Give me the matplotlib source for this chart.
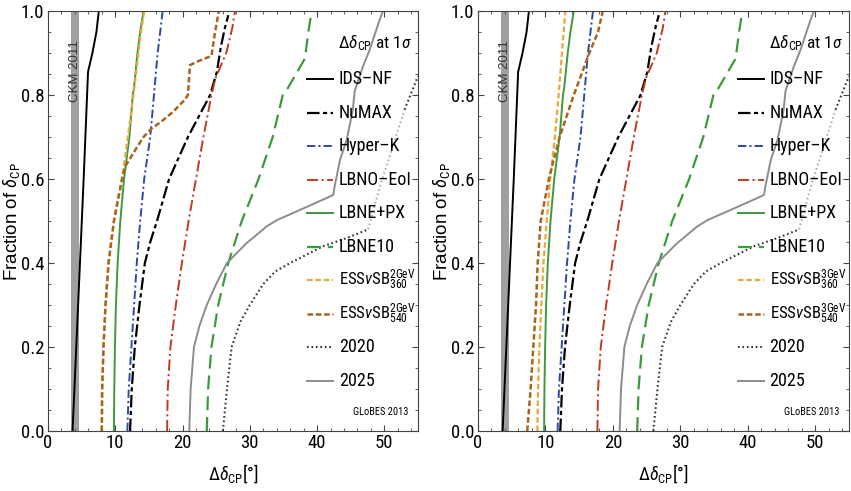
import matplotlib
matplotlib.use('Agg')
import matplotlib.pyplot as plt
from matplotlib import font_manager
from matplotlib.ticker import MultipleLocator, FormatStrFormatter

installed = {f.name for f in font_manager.fontManager.ttflist}
narrow = next((f for f in ['Roboto Condensed', 'Archivo Narrow', 'PT Sans Narrow', 'Liberation Sans']
               if f in installed), 'DejaVu Sans')
regular = 'Liberation Sans'

plt.rcParams['font.family'] = [narrow, 'DejaVu Sans']
plt.rcParams['mathtext.fontset'] = 'custom'
plt.rcParams['mathtext.rm'] = narrow
plt.rcParams['mathtext.it'] = narrow + ':italic'
plt.rcParams['mathtext.sf'] = narrow
plt.rcParams['mathtext.fallback'] = 'stixsans'
plt.rcParams['lines.scale_dashes'] = False

# ---- data (fraction of delta_CP vs precision in degrees) ----
ckm_band = (3.45, 4.6)

ids_x = [3.65, 4.2, 4.75, 5.3, 5.95, 6.6, 7.2, 7.55]
ids_y = [0.0, 0.2, 0.4, 0.6, 0.855, 0.9, 0.95, 1.0]

numax_x = [12.2, 12.45, 12.9, 13.6, 14.4, 15.2, 16.2, 17.1, 18.0, 20.8, 24.1, 25.1, 25.7, 26.3, 26.8]
numax_y = [0.0, 0.1, 0.2, 0.3, 0.4, 0.45, 0.5, 0.55, 0.6, 0.7, 0.8, 0.855, 0.915, 0.96, 0.99]

hyperk_x = [11.8, 12.0, 12.4, 12.8, 13.2, 13.7, 14.3, 15.2, 15.75, 16.3, 17.05]
hyperk_y = [0.0, 0.1, 0.2, 0.3, 0.4, 0.5, 0.6, 0.7, 0.8, 0.9, 1.0]

lbno_x = [17.7, 17.8, 18.2, 19.0, 19.9, 20.9, 22.0, 23.1, 24.3, 24.9, 26.5, 27.4, 27.8]
lbno_y = [0.0, 0.1, 0.2, 0.3, 0.4, 0.5, 0.6, 0.7, 0.8, 0.84, 0.9, 0.96, 1.0]

lbnepx_x = [9.8, 9.85, 9.95, 10.1, 10.35, 10.75, 11.3, 12.1, 12.6, 12.8, 13.3, 13.7, 14.2]
lbnepx_y = [0.0, 0.1, 0.2, 0.3, 0.4, 0.5, 0.6, 0.7, 0.8, 0.82, 0.9, 0.95, 1.0]

lbne10_x = [23.6, 23.8, 24.3, 25.3, 26.8, 28.8, 31.3, 33.4, 34.9, 35.6, 38.2, 38.7, 39.2]
lbne10_y = [0.0, 0.1, 0.2, 0.3, 0.4, 0.5, 0.6, 0.7, 0.8, 0.815, 0.887, 0.95, 1.0]

ess2_360_x = [8.0, 8.05, 8.25, 8.55, 9.0, 9.8, 11.0, 11.95, 12.7, 13.3, 13.8, 14.3]
ess2_360_y = [0.0, 0.1, 0.2, 0.3, 0.4, 0.5, 0.6, 0.709, 0.8, 0.88, 0.947, 1.0]

ess2_540_x = [8.0, 8.05, 8.25, 8.55, 9.0, 9.8, 11.0, 11.45, 13.2, 14.2, 15.4, 17.1, 18.6,
              20.4, 20.8, 21.1, 22.1, 24.3, 24.8, 25.4]
ess2_540_y = [0.0, 0.1, 0.2, 0.3, 0.4, 0.5, 0.6, 0.629, 0.675, 0.70, 0.72, 0.74, 0.76,
              0.79, 0.80, 0.871, 0.879, 0.893, 0.947, 1.0]

ess3_360_x = [8.8, 8.9, 9.1, 9.4, 9.7, 10.2, 10.7, 11.4, 11.95, 12.45, 12.95]
ess3_360_y = [0.0, 0.1, 0.2, 0.3, 0.4, 0.5, 0.6, 0.7, 0.8, 0.9, 1.0]

ess3_540_x = [7.3, 7.8, 8.2, 8.6, 8.85, 9.3, 9.9, 10.5, 12.1, 14.2, 16.5, 17.8, 18.5]
ess3_540_y = [0.0, 0.1, 0.2, 0.3, 0.4, 0.5, 0.55, 0.6, 0.7, 0.8, 0.9, 0.95, 1.0]

y2020_x = [26.0, 26.6, 27.3, 28.6, 30.0, 32.0, 33.8, 36.0, 40.9, 44.5, 47.6, 49.3, 51.3, 53.0, 55.0]
y2020_y = [0.0, 0.1, 0.2, 0.26, 0.3, 0.35, 0.38, 0.40, 0.44, 0.46, 0.48, 0.58, 0.68, 0.765, 0.845]

y2025_x = [21.0, 21.2, 21.7, 22.5, 23.6, 25.0, 26.6, 29.5, 32.5, 34.0, 37.4, 40.2, 42.4, 42.6,
           43.4, 44.4, 45.3, 45.6, 46.8, 47.8, 49.3, 49.8]
y2025_y = [0.0, 0.1, 0.2, 0.25, 0.3, 0.35, 0.4, 0.447, 0.487, 0.502, 0.526, 0.546, 0.562, 0.582,
           0.645, 0.693, 0.764, 0.81, 0.867, 0.907, 0.979, 1.0]

x_ticks = [0, 10, 20, 30, 40, 50]
y_ticks = [0.0, 0.2, 0.4, 0.6, 0.8, 1.0]

# name -> (label, color, linewidth, dashes)
styles = {
    'ids': ('IDS–NF', 'black', 1.4, None),
    'numax': ('NuMAX', 'black', 1.6, (9, 2.5, 3, 2.5)),
    'hyperk': ('Hyper–K', '#2a4aa8', 1.4, (6, 2.2, 1.5, 2.2)),
    'lbno': ('LBNO–EoI', '#c23a22', 1.4, (8, 2.5, 1.5, 2.5)),
    'lbnepx': ('LBNE+PX', '#3c9a3c', 1.4, None),
    'lbne10': ('LBNE10', '#3c9a3c', 1.6, (10, 5)),
    'ess360': (None, '#e8a840', 1.6, (4, 2)),
    'ess540': (None, '#a8641c', 1.8, (4, 2)),
    '2020': ('2020', '#333333', 1.5, (1.2, 2.0)),
    '2025': ('2025', '#8c8c8c', 1.4, None),
}


def draw_line(ax, x, y, key, color=None, **kw):
    label, c, lw, dashes = styles[key]
    line, = ax.plot(x, y, color=color or c, lw=lw, **kw)
    if dashes is not None:
        line.set_dashes(dashes)
    return line


def draw_panel(ax, ess360, ess540, energy):
    ax.axvspan(*ckm_band, color='#a0a0a0', lw=0, zorder=0)
    ax.text(sum(ckm_band) / 2, 0.93, 'CKM 2011', rotation=90, ha='center', va='top',
            fontsize=9.5, color='#333333', family=regular)

    draw_line(ax, ids_x, ids_y, 'ids')
    draw_line(ax, numax_x, numax_y, 'numax')
    draw_line(ax, hyperk_x, hyperk_y, 'hyperk')
    draw_line(ax, lbno_x, lbno_y, 'lbno')
    draw_line(ax, lbnepx_x, lbnepx_y, 'lbnepx')
    draw_line(ax, lbne10_x, lbne10_y, 'lbne10')
    draw_line(ax, ess360[0], ess360[1], 'ess360')
    draw_line(ax, ess540[0], ess540[1], 'ess540')
    draw_line(ax, y2025_x, y2025_y, '2025')
    # 2020 line is drawn lighter in its middle part
    draw_line(ax, y2020_x[:11], y2020_y[:11], '2020')
    draw_line(ax, y2020_x[10:14], y2020_y[10:14], '2020', color='#b0b0b0')
    draw_line(ax, y2020_x[13:], y2020_y[13:], '2020')

    # legend
    ax.text(0.985, 0.924, r'$\Delta\delta_{\mathrm{CP}}$ at 1$\sigma$', transform=ax.transAxes,
            ha='right', va='center', fontsize=12.5)
    labels = {
        'ess360': r'ESS$\nu\mathrm{SB}_{360}^{%s\mathrm{GeV}}$' % energy,
        'ess540': r'ESS$\nu\mathrm{SB}_{540}^{%s\mathrm{GeV}}$' % energy,
    }
    order = ['ids', 'numax', 'hyperk', 'lbno', 'lbnepx', 'lbne10', 'ess360', 'ess540', '2020', '2025']
    for i, key in enumerate(order):
        yy = 0.838 - i * 0.0798
        draw_line(ax, [0.70, 0.77], [yy, yy], key, transform=ax.transAxes)
        ax.text(0.786, yy, labels.get(key, styles[key][0]), transform=ax.transAxes,
                ha='left', va='center', fontsize=12 if key in labels else 13)

    ax.text(0.973, 0.045, 'GLoBES 2013', transform=ax.transAxes, ha='right', va='center',
            fontsize=7.5)

    ax.set_xlim(0, 55)
    ax.set_ylim(0, 1)
    ax.set_xticks(x_ticks)
    ax.set_yticks(y_ticks)
    ax.xaxis.set_minor_locator(MultipleLocator(2))
    ax.yaxis.set_minor_locator(MultipleLocator(0.05))
    ax.yaxis.set_major_formatter(FormatStrFormatter('%.1f'))
    ax.tick_params(which='both', direction='in', top=True, right=True, color='#444444',
                   labelsize=13.5)
    ax.tick_params(which='major', length=4.5, width=0.8, pad=2.5)
    ax.tick_params(which='minor', length=2.2, width=0.6)
    for s in ax.spines.values():
        s.set_color('#444444')
        s.set_linewidth(0.8)
    ax.set_xlabel(r'$\Delta\delta_{\mathrm{CP}}$[°]', fontsize=13)
    ax.xaxis.set_label_coords(0.5, -0.074)
    ax.set_ylabel(r'Fraction of $\delta_{\mathrm{CP}}$', fontsize=13.5, family=regular)
    ax.yaxis.set_label_coords(-0.07, 0.5)


fig = plt.figure(figsize=(8.51, 4.91), dpi=100)
ax1 = fig.add_axes([48 / 851, 60 / 491, 370 / 851, 420 / 491])
ax2 = fig.add_axes([478 / 851, 60 / 491, 371 / 851, 420 / 491])

draw_panel(ax1, (ess2_360_x, ess2_360_y), (ess2_540_x, ess2_540_y), '2')
draw_panel(ax2, (ess3_360_x, ess3_360_y), (ess3_540_x, ess3_540_y), '3')

fig.savefig('out.png', dpi=100)
